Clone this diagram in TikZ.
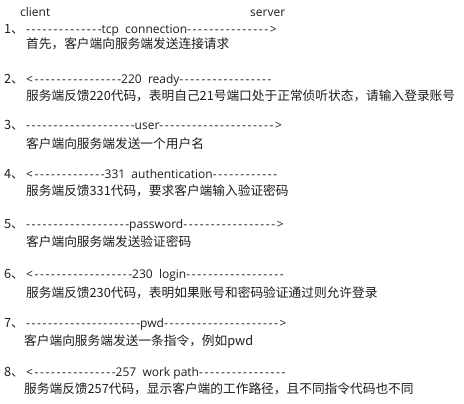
\documentclass[tikz,border=0pt]{standalone}
\usepackage{fontspec}
\setmainfont[Ligatures=TeXOff]{Open Sans}
\newfontfamily\cjk[Ligatures=TeXOff]{Noto Sans CJK SC}
\newfontfamily\dashfont[Ligatures=TeXOff,LetterSpace=13.7]{Open Sans}
\definecolor{txt}{HTML}{1E1E1E}
\newcommand{\dd}[1]{{\dashfont #1}}
\begin{document}
\begin{tikzpicture}[x=1pt,y=-1pt,
  every node/.style={inner sep=0pt, anchor=base west, text=txt, font=\fontsize{12}{15}\selectfont},
  num/.style={font=\fontsize{12.7}{15}\selectfont\cjk},
  msg/.style={},
  cn/.style={font=\fontsize{12.7}{15}\selectfont\cjk}]
\useasboundingbox (0,0) rectangle (464,404);
\fill[white] (0,0) rectangle (464,404);
\node (hc) at (20,16.7) {client};
\node (hs) at (250,16.7) {server};
% 1
\node[num] (n1) at (4,33.3) {1、};
\node[msg] (a1) at (26,33.3) {\dd{--------------}tcp\ \ connection\dd{--------------->}};
\node[cn] (c1) at (26,48.8) {首先，客户端向服务端发送连接请求};
% 2
\node[num] (n2) at (4,83.3) {2、};
\node[msg] (a2) at (26,83.3) {\dd{<----------------}220\ \ ready\dd{-----------------}};
\node[cn] (c2) at (26,100.5) {服务端反馈220代码，表明自己21号端口处于正常侦听状态，请输入登录账号};
% 3
\node[num] (n3) at (4,130) {3、};
\node[msg] (a3) at (26,130) {\dd{--------------------}user\dd{--------------------->}};
\node[cn] (c3) at (26,148.8) {客户端向服务端发送一个用户名};
% 4
\node[num] (n4) at (4,178.3) {4、};
\node[msg] (a4) at (26,178.3) {\dd{<-------------}331\ \ authentication\dd{------------}};
\node[cn] (c4) at (26,195.5) {服务端反馈331代码，要求客户端输入验证密码};
% 5
\node[num] (n5) at (4,228.3) {5、};
\node[msg] (a5) at (26,228.3) {\dd{-------------------}password\dd{----------------->}};
\node[cn] (c5) at (26,246.8) {客户端向服务端发送验证密码};
% 6
\node[num] (n6) at (4,278) {6、};
\node[msg] (a6) at (26,278) {\dd{<------------------}230\ \ login\dd{------------------}};
\node[cn] (c6) at (26,297.3) {服务端反馈230代码，表明如果账号和密码验证通过则允许登录};
% 7
\node[num] (n7) at (4,327.3) {7、};
\node[msg] (a7) at (26,327.3) {\dd{---------------------}pwd\dd{--------------------->}};
\node[cn] (c7) at (24,345.5) {客户端向服务端发送一条指令，例如pwd};
% 8
\node[num] (n8) at (4,376.7) {8、};
\node[msg] (a8) at (26,376.7) {\dd{<---------------}257\ \ work path\dd{----------------}};
\node[cn] (c8) at (24,393.8) {服务端反馈257代码，显示客户端的工作路径，且不同指令代码也不同};
\end{tikzpicture}
\end{document}
